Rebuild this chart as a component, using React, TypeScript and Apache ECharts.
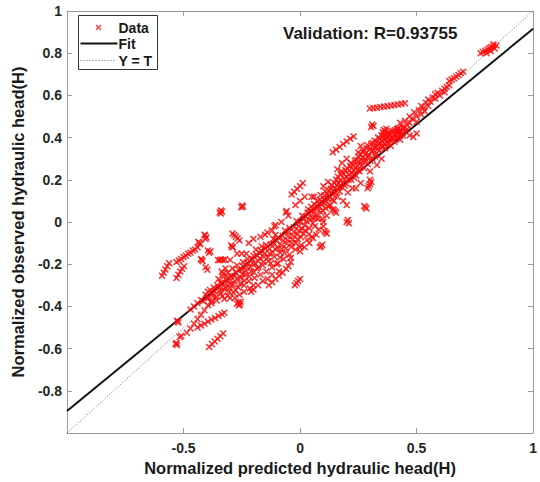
import React, { useEffect, useRef } from "react";
import * as echarts from "echarts";

const FONT = "'Liberation Sans', Arial, sans-serif";

const titleText = "Validation: R=0.93755";
const xAxisName = "Normalized predicted hydraulic head(H)";
const yAxisName = "Normalized observed hydraulic head(H)";
const legendLabels = ["Data", "Fit", "Y = T"];

// Fit line and identity line end points
const fitX = [-1, 1];
const fitY = [-0.896, 0.916];
const identityX = [-1, 1];
const identityY = [-1, 1];

// Scatter data (target T, output Y)
const upperPoints = [
  [0.775, 0.8], [0.785, 0.806], [0.795, 0.812], [0.805, 0.816], [0.812, 0.824], [0.82, 0.828],
  [0.828, 0.832], [0.835, 0.822], [0.842, 0.836], [0.818, 0.81], [0.8, 0.8], [0.83, 0.842],
  [0.64, 0.668], [0.65, 0.675], [0.66, 0.681], [0.67, 0.689], [0.68, 0.697], [0.69, 0.705], [0.7, 0.712],
  [0.3, 0.538], [0.315, 0.54], [0.33, 0.542], [0.345, 0.545], [0.36, 0.547], [0.375, 0.549],
  [0.39, 0.552], [0.405, 0.554], [0.42, 0.557], [0.435, 0.56], [0.45, 0.563],
  [0.42, 0.44], [0.43, 0.47], [0.44, 0.45], [0.45, 0.48], [0.46, 0.46], [0.47, 0.5], [0.48, 0.49],
  [0.49, 0.52], [0.5, 0.5], [0.51, 0.53], [0.52, 0.55], [0.53, 0.54], [0.54, 0.565], [0.55, 0.58],
  [0.56, 0.57], [0.57, 0.59], [0.58, 0.605], [0.59, 0.612], [0.6, 0.6], [0.61, 0.622], [0.62, 0.632],
  [0.63, 0.64], [0.64, 0.648], [0.55, 0.55], [0.5, 0.475], [0.47, 0.47], [0.46, 0.44], [0.486, 0.403],
  [0.5, 0.42], [0.47, 0.41], [0.44, 0.42], [0.58, 0.585], [0.62, 0.615], [0.52, 0.51], [0.535, 0.525],
  [0.305, 0.45], [0.31, 0.462], [0.315, 0.455], [0.355, 0.425], [0.36, 0.436], [0.365, 0.43], [0.37, 0.442],
  [0.14, 0.33], [0.155, 0.343], [0.17, 0.356], [0.185, 0.37], [0.2, 0.382], [0.215, 0.395], [0.23, 0.405],
  [-0.036, 0.13], [-0.025, 0.143], [-0.013, 0.157], [0, 0.17], [0.012, 0.185],
];

const leftPoints = [
  [-0.345, 0.045], [-0.34, 0.055], [-0.335, 0.05], [-0.34, 0.04], [-0.252, 0.07], [-0.248, 0.078], [-0.245, 0.072],
  [-0.592, -0.255], [-0.585, -0.24], [-0.578, -0.225], [-0.57, -0.21], [-0.562, -0.195],
  [-0.53, -0.265], [-0.522, -0.25], [-0.514, -0.235], [-0.506, -0.222], [-0.498, -0.21],
  [-0.53, -0.19], [-0.52, -0.182], [-0.51, -0.175], [-0.5, -0.166], [-0.49, -0.16], [-0.48, -0.15],
  [-0.47, -0.145], [-0.46, -0.135], [-0.45, -0.13], [-0.44, -0.12],
  [-0.432, -0.1], [-0.428, -0.106], [-0.436, -0.094],
  [-0.408, -0.064], [-0.402, -0.072], [-0.405, -0.08], [-0.41, -0.06],
  [-0.395, -0.135], [-0.39, -0.146], [-0.385, -0.14],
  [-0.425, -0.175], [-0.418, -0.186], [-0.422, -0.18],
  [-0.405, -0.215], [-0.398, -0.226],
  [-0.352, -0.18], [-0.345, -0.181], [-0.338, -0.178], [-0.33, -0.18], [-0.322, -0.177],
  [-0.336, -0.235], [-0.33, -0.245],
  [-0.295, -0.11], [-0.288, -0.12], [-0.292, -0.118],
  [-0.29, -0.055], [-0.282, -0.062], [-0.275, -0.07], [-0.268, -0.078], [-0.26, -0.088],
];

const lowerLeftPoints = [
  [-0.525, -0.47], [-0.522, -0.476], [-0.528, -0.468], [-0.516, -0.545], [-0.51, -0.54],
  [-0.534, -0.578], [-0.528, -0.583], [-0.53, -0.574],
  [-0.486, -0.525], [-0.47, -0.505], [-0.455, -0.482], [-0.44, -0.46], [-0.425, -0.44], [-0.41, -0.418],
  [-0.395, -0.395], [-0.38, -0.375],
  [-0.44, -0.5], [-0.425, -0.49], [-0.41, -0.482], [-0.395, -0.472], [-0.38, -0.462], [-0.365, -0.455],
  [-0.35, -0.445], [-0.335, -0.437], [-0.325, -0.43],
  [-0.39, -0.592], [-0.378, -0.578], [-0.366, -0.566], [-0.354, -0.553], [-0.342, -0.541], [-0.33, -0.528],
  [-0.47, -0.415], [-0.455, -0.4], [-0.44, -0.385], [-0.425, -0.37],
  [-0.265, -0.38], [-0.258, -0.39], [-0.262, -0.396], [-0.255, -0.378], [-0.27, -0.388], [-0.3, -0.36], [-0.31, -0.35],
];

const offBandPoints = [
  [-0.134, -0.3], [-0.12, -0.285], [-0.105, -0.27], [-0.09, -0.255], [-0.075, -0.24], [-0.06, -0.222], [-0.05, -0.21],
  [-0.022, -0.3], [-0.015, -0.29], [-0.008, -0.28], [0, -0.27],
  [0.05, -0.07], [0.055, -0.076], [0.09, -0.115], [0.095, -0.108], [0.085, -0.12], [0.11, -0.05], [0.105, -0.044],
  [0.115, -0.056], [0.15, 0.05], [0.155, 0.044], [0.145, 0.056], [0.2, 0], [0.205, 0.01], [0.21, -0.006],
  [0.28, 0.07], [0.275, 0.076], [0.285, 0.064], [0.3, 0.18], [0.295, 0.17], [0.305, 0.19], [0.29, 0.16],
  [-0.06, 0.045], [-0.058, 0.052], [-0.11, -0.02], [-0.105, -0.014],
];

const bandPoints = [
  [-0.4, -0.36], [-0.395, -0.33], [-0.38, -0.385], [-0.375, -0.34], [-0.37, -0.31],
  [-0.36, -0.355], [-0.355, -0.3], [-0.35, -0.27], [-0.345, -0.325],
  [-0.34, -0.34], [-0.335, -0.29], [-0.33, -0.26], [-0.325, -0.365],
  [-0.32, -0.31], [-0.315, -0.275], [-0.31, -0.24], [-0.305, -0.33],
  [-0.3, -0.295], [-0.295, -0.255], [-0.29, -0.22], [-0.285, -0.335],
  [-0.28, -0.28], [-0.275, -0.24], [-0.27, -0.205], [-0.265, -0.31], [-0.26, -0.345],
  [-0.255, -0.265], [-0.25, -0.225], [-0.245, -0.19], [-0.24, -0.3],
  [-0.235, -0.25], [-0.23, -0.21], [-0.225, -0.175], [-0.22, -0.28], [-0.215, -0.315],
  [-0.21, -0.235], [-0.205, -0.195], [-0.2, -0.16], [-0.195, -0.265], [-0.19, -0.13],
  [-0.185, -0.22], [-0.18, -0.185], [-0.175, -0.145], [-0.17, -0.25], [-0.165, -0.115],
  [-0.16, -0.205], [-0.155, -0.165], [-0.15, -0.125], [-0.145, -0.235], [-0.14, -0.27],
  [-0.135, -0.185], [-0.13, -0.15], [-0.125, -0.105], [-0.12, -0.215], [-0.115, -0.08],
  [-0.11, -0.165], [-0.105, -0.13], [-0.1, -0.09], [-0.095, -0.195], [-0.09, -0.235],
  [-0.085, -0.145], [-0.08, -0.11], [-0.075, -0.065], [-0.07, -0.175], [-0.065, -0.04],
  [-0.06, -0.125], [-0.055, -0.085], [-0.05, -0.05], [-0.045, -0.155], [-0.04, -0.19],
  [-0.035, -0.1], [-0.03, -0.065], [-0.025, -0.025], [-0.02, -0.13], [-0.015, 0.005],
  [-0.01, -0.08], [-0.005, -0.04], [0, 0], [0.005, -0.11], [0.01, 0.03],
  [0.015, -0.055], [0.02, -0.015], [0.025, 0.025], [0.03, -0.085], [0.035, 0.06],
  [0.04, -0.03], [0.045, 0.01], [0.05, 0.05], [0.055, -0.005], [0.06, 0.085],
  [0.065, 0.02], [0.07, 0.035], [0.075, 0.07], [0.08, -0.035], [0.085, 0.105],
  [0.09, 0.045], [0.095, 0.015], [0.1, 0.09], [0.105, 0.125], [0.11, 0.065],
  [0.115, 0.03], [0.12, 0.11], [0.125, 0.15], [0.13, 0.08], [0.135, 0.175],
  [0.14, 0.13], [0.145, 0.1], [0.15, 0.16], [0.155, 0.2], [0.16, 0.12],
  [0.165, 0.185], [0.17, 0.145], [0.175, 0.225], [0.18, 0.165], [0.185, 0.1],
  [0.19, 0.205], [0.195, 0.245], [0.2, 0.18], [0.205, 0.14], [0.21, 0.225],
  [0.215, 0.265], [0.22, 0.2], [0.225, 0.16], [0.23, 0.245], [0.235, 0.29],
  [0.24, 0.22], [0.245, 0.265], [0.25, 0.31], [0.255, 0.24], [0.26, 0.185],
  [0.265, 0.285], [0.27, 0.33], [0.275, 0.255], [0.28, 0.3], [0.285, 0.35],
  [0.29, 0.275], [0.295, 0.32], [0.3, 0.24], [0.305, 0.37], [0.31, 0.3],
  [0.315, 0.34], [0.32, 0.385], [0.325, 0.32], [0.33, 0.36], [0.335, 0.4],
  [0.34, 0.34], [0.345, 0.375], [0.35, 0.41], [0.355, 0.355], [0.36, 0.39],
  [0.365, 0.35], [0.37, 0.405], [0.375, 0.375], [0.38, 0.42], [0.385, 0.39],
  [0.39, 0.36], [0.395, 0.4], [0.4, 0.43], [0.405, 0.38], [0.41, 0.415],
  [0.415, 0.44], [0.42, 0.4], [0.425, 0.425], [0.43, 0.39], [0.44, 0.41],
];

const bandExtraPoints = [
  [-0.415, -0.375], [-0.405, -0.345], [-0.392, -0.36], [-0.386, -0.322], [-0.372, -0.352], [-0.366, -0.328],
  [-0.358, -0.372], [-0.348, -0.31], [-0.342, -0.288], [-0.333, -0.352], [-0.327, -0.318], [-0.318, -0.292],
  [-0.312, -0.258], [-0.302, -0.312], [-0.298, -0.276], [-0.288, -0.298], [-0.282, -0.256], [-0.277, -0.322],
  [-0.268, -0.268], [-0.262, -0.228], [-0.256, -0.292], [-0.248, -0.248], [-0.242, -0.212], [-0.238, -0.278],
  [-0.232, -0.232], [-0.226, -0.196], [-0.218, -0.258], [-0.212, -0.215], [-0.206, -0.176], [-0.198, -0.238],
  [-0.192, -0.198], [-0.186, -0.158], [-0.178, -0.215], [-0.172, -0.172], [-0.168, -0.135], [-0.158, -0.19],
  [-0.152, -0.148], [-0.146, -0.108], [-0.138, -0.168], [-0.132, -0.128], [-0.126, -0.196], [-0.118, -0.142],
  [-0.112, -0.102], [-0.106, -0.062], [-0.098, -0.12], [-0.092, -0.076], [-0.086, -0.168], [-0.078, -0.128],
  [-0.072, -0.088], [-0.066, -0.148], [-0.058, -0.102], [-0.052, -0.066], [-0.046, -0.028], [-0.038, -0.118],
  [-0.032, -0.082], [-0.026, -0.046], [-0.018, -0.1], [-0.012, -0.058], [-0.006, -0.02], [0.004, -0.072],
  [0.008, -0.032], [0.014, 0.012], [0.022, -0.04], [0.028, 0.004], [0.032, 0.045], [0.038, -0.058],
  [0.044, 0.028], [0.048, 0.072], [0.054, 0.02], [0.058, 0.058], [0.064, -0.02], [0.068, 0.062],
  [0.074, 0.098], [0.078, 0.015], [0.082, 0.075], [0.088, 0.128], [0.092, 0.082], [0.098, 0.055],
  [0.102, 0.108], [0.108, 0.145], [0.112, 0.095], [0.118, 0.132], [0.122, 0.072], [0.128, 0.118],
  [0.132, 0.158], [0.138, 0.108], [0.142, 0.148], [0.148, 0.185], [0.152, 0.138], [0.158, 0.175],
  [0.162, 0.215], [0.168, 0.165], [0.172, 0.198], [0.178, 0.24], [0.182, 0.185], [0.188, 0.228],
  [0.192, 0.172], [0.198, 0.215], [0.202, 0.255], [0.208, 0.2], [0.212, 0.245], [0.218, 0.28],
  [0.222, 0.232], [0.228, 0.27], [0.232, 0.21], [0.238, 0.255], [0.242, 0.295], [0.248, 0.245],
  [0.252, 0.285], [0.258, 0.32], [0.262, 0.265], [0.268, 0.305], [0.272, 0.34], [0.278, 0.285],
  [0.282, 0.325], [0.288, 0.365], [0.292, 0.31], [0.298, 0.345], [0.302, 0.29], [0.308, 0.335],
  [0.312, 0.375], [0.318, 0.355], [0.322, 0.31], [0.328, 0.38], [0.332, 0.345], [0.338, 0.37],
  [0.342, 0.395], [0.348, 0.36], [0.352, 0.385], [0.358, 0.41], [0.362, 0.37], [0.368, 0.395],
  [0.372, 0.42], [0.378, 0.4], [0.382, 0.375], [0.388, 0.415], [0.392, 0.43], [0.398, 0.39],
  [0.402, 0.415], [0.408, 0.435], [0.412, 0.4], [0.418, 0.425], [0.422, 0.445], [0.428, 0.41],
  [0.435, 0.43], [0.445, 0.445], [0.45, 0.43],
  [-0.2, -0.3], [-0.21, -0.33], [-0.18, -0.3], [-0.16, -0.28], [-0.22, -0.1], [-0.2, -0.08],
  [-0.17, -0.07], [-0.14, -0.05], [0, 0.1], [0.02, 0.12], [-0.02, 0.08], [0, -0.14], [0.02, -0.12],
  [-0.04, -0.17], [-0.24, -0.33], [-0.23, -0.15], [-0.12, -0.04], [0.06, 0.12], [0.12, 0.19],
  [0.16, 0.25], [0.04, -0.1], [0.1, 0.0], [0.14, 0.06], [0.24, 0.16], [0.26, 0.36],
  [-0.3, -0.18], [-0.25, -0.15], [-0.15, -0.06], [-0.05, 0.03], [0.05, 0.12], [0.1, 0.17],
  [0.2, 0.3], [0.25, 0.33], [-0.2, -0.32], [-0.1, -0.2], [0.0, -0.12], [0.1, -0.02],
  [0.2, 0.08], [0.3, 0.2], [0.35, 0.3], [-0.28, -0.36], [-0.32, -0.22], [-0.08, 0.0],
  [0.07, -0.06], [0.18, 0.28], [0.33, 0.27], [-0.27, -0.15], [-0.12, -0.25],
];

const CROSS =
  "path://M1.5,0L5,3.5L8.5,0L10,1.5L6.5,5L10,8.5L8.5,10L5,6.5L1.5,10L0,8.5L3.5,5L0,1.5Z";

const AXIS_COLOR = "#9a9a9a";
const LABEL_COLOR = "#262626";
const RED = "#ff0a0a";

function fmt(v: number) {
  if (v <= -0.999) return "";
  return String(Math.round(v * 10) / 10);
}

export default function App() {
  const ref = useRef<HTMLDivElement>(null);

  useEffect(() => {
    if (!ref.current) return;
    const chart = echarts.init(ref.current, null, { renderer: "svg" });
    const scatterData = [
      ...bandPoints,
      ...bandExtraPoints,
      ...offBandPoints,
      ...leftPoints,
      ...lowerLeftPoints,
      ...upperPoints,
    ];
    const labelStyle = {
      fontFamily: FONT,
      fontSize: 14,
      fontWeight: "bold" as const,
      color: LABEL_COLOR,
    };
    const nameStyle = {
      fontFamily: FONT,
      fontSize: 16.5,
      fontWeight: "bold" as const,
      color: "#1a1a1a",
    };
    const boxAxis = (interval: number) => ({
      type: "value" as const,
      min: -1,
      max: 1,
      interval,
      axisLine: { show: true, onZero: false, lineStyle: { color: AXIS_COLOR, width: 1 } },
      axisTick: { show: true, inside: true, length: 5, lineStyle: { color: AXIS_COLOR } },
      splitLine: { show: false },
    });
    chart.setOption({
      animation: false,
      backgroundColor: "#ffffff",
      title: {
        text: titleText,
        left: 278,
        top: 20,
        textStyle: { fontFamily: FONT, fontSize: 17, fontWeight: "bold", color: "#1a1a1a" },
      },
      grid: { left: 67, right: 3, top: 11, bottom: 49 },
      xAxis: [
        {
          ...boxAxis(0.5),
          position: "bottom",
          axisLabel: { ...labelStyle, margin: 8, formatter: fmt },
          name: xAxisName,
          nameLocation: "middle",
          nameGap: 26,
          nameTextStyle: nameStyle,
        },
        { ...boxAxis(0.5), position: "top", axisLabel: { show: false } },
      ],
      yAxis: [
        {
          ...boxAxis(0.2),
          position: "left",
          axisLabel: { ...labelStyle, margin: 5, formatter: fmt },
          name: yAxisName,
          nameLocation: "middle",
          nameGap: 37,
          nameTextStyle: nameStyle,
        },
        { ...boxAxis(0.2), position: "right", axisLabel: { show: false } },
      ],
      series: [
        {
          name: legendLabels[1],
          type: "line",
          data: fitX.map((x, i) => [x, fitY[i]]),
          symbol: "none",
          lineStyle: { color: "#111111", width: 2 },
          z: 2,
        },
        {
          name: legendLabels[2],
          type: "line",
          data: identityX.map((x, i) => [x, identityY[i]]),
          symbol: "none",
          lineStyle: { color: "#666666", width: 1, type: [1, 2] },
          z: 2,
        },
        {
          name: legendLabels[0],
          type: "scatter",
          data: scatterData,
          symbol: CROSS,
          symbolSize: 7,
          itemStyle: { color: RED, opacity: 0.85 },
          z: 3,
        },
      ],
      graphic: [
        {
          type: "group",
          left: 78,
          top: 15,
          children: [
            {
              type: "rect",
              shape: { x: 0, y: 0, width: 79, height: 54 },
              style: { fill: "#ffffff", stroke: "#333333", lineWidth: 1 },
            },
            {
              type: "polygon",
              shape: {
                points: [
                  [17.9, 9], [20, 11.1], [22.1, 9], [23, 9.9], [20.9, 12], [23, 14.1],
                  [22.1, 15], [20, 12.9], [17.9, 15], [17, 14.1], [19.1, 12], [17, 9.9],
                ],
              },
              style: { fill: RED, opacity: 0.8 },
            },
            {
              type: "text",
              x: 40,
              y: 12,
              style: { text: legendLabels[0], font: `bold 14px ${FONT}`, fill: "#1a1a1a", verticalAlign: "middle" },
            },
            { type: "line", shape: { x1: 2, y1: 28, x2: 39, y2: 28 }, style: { stroke: "#111111", lineWidth: 2 } },
            {
              type: "text",
              x: 40,
              y: 28,
              style: { text: legendLabels[1], font: `bold 14px ${FONT}`, fill: "#1a1a1a", verticalAlign: "middle" },
            },
            {
              type: "line",
              shape: { x1: 2, y1: 45, x2: 38, y2: 45 },
              style: { stroke: "#666666", lineWidth: 1, lineDash: [1, 2] },
            },
            {
              type: "text",
              x: 40,
              y: 45,
              style: { text: legendLabels[2], font: `bold 14px ${FONT}`, fill: "#1a1a1a", verticalAlign: "middle" },
            },
          ],
        },
      ],
    });
    return () => chart.dispose();
  }, []);

  return (
    <div
      ref={ref}
      style={{ position: "fixed", left: 0, top: 0, width: 540, height: 482, background: "#fff" }}
    />
  );
}
